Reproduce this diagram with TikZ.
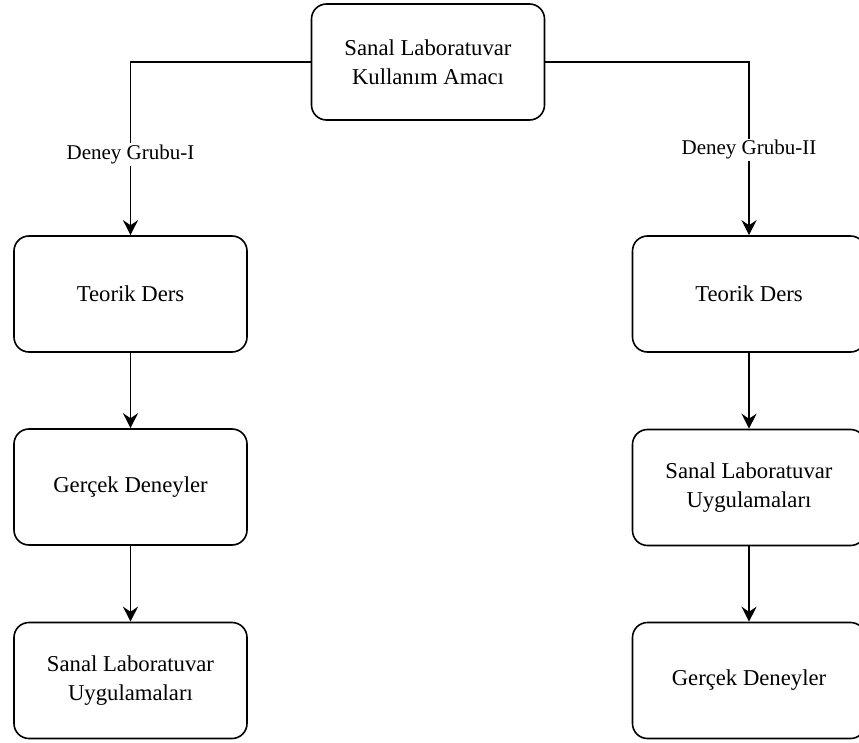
\documentclass[tikz,border=0pt]{standalone}
\usepackage{fontspec}
\setmainfont{Liberation Serif}
\usetikzlibrary{arrows.meta}

\begin{document}
\begin{tikzpicture}[x=1pt,y=-1pt,
  box/.style={draw,line width=1.6pt,rounded corners=15pt,minimum width=233pt,
    minimum height=116pt,align=center,font=\fontsize{22.7}{28.5}\selectfont},
  lbl/.style={fill=white,inner sep=1.5pt,font=\fontsize{21}{25}\selectfont},
  arr/.style={line width=1.6pt,-{Stealth[length=15pt,width=15pt,inset=5pt]}}]
  \useasboundingbox (0,0) rectangle (859,743);

  \node[box] (top) at (428,62) {Sanal Laboratuvar\\Kullanım Amacı};

  \node[box] (teoI)   at (130.5,294) {Teorik Ders};
  \node[box] (gercI)  at (130.5,487) {Gerçek Deneyler};
  \node[box] (sanalI) at (130.5,680.5) {Sanal Laboratuvar\\Uygulamaları};

  \node[box] (teoII)   at (749,294) {Teorik Ders};
  \node[box] (sanalII) at (749,487.5) {Sanal Laboratuvar\\Uygulamaları};
  \node[box] (gercII)  at (749,680.5) {Gerçek Deneyler};

  \draw[arr] (top.west) -| (teoI.north) node[lbl,pos=0.767] {Deney Grubu-I};
  \draw[arr] (top.east) -| (teoII.north) node[lbl,pos=0.753] {Deney Grubu-II};

  \draw[arr] (teoI) -- (gercI);
  \draw[arr] (gercI) -- (sanalI);
  \draw[arr] (teoII) -- (sanalII);
  \draw[arr] (sanalII) -- (gercII);
\end{tikzpicture}
\end{document}
